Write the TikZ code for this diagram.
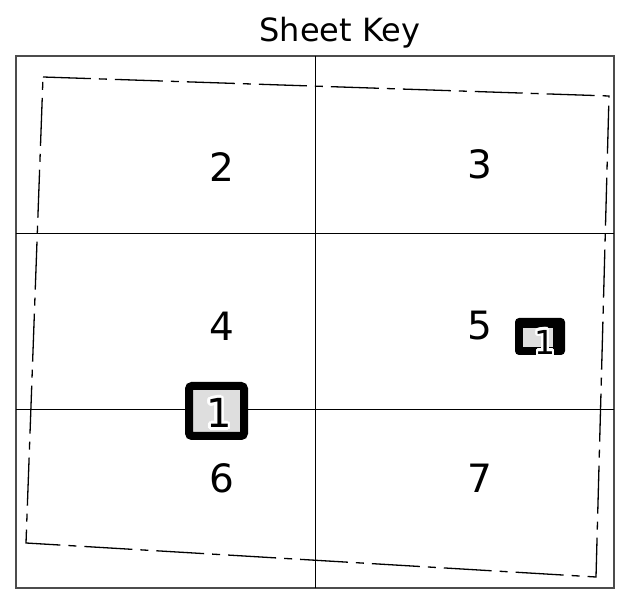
\documentclass[tikz,border=0pt]{standalone}
\usepackage{fontspec}
\setmainfont{DejaVu Sans}

\tikzset{
  sheetnum/.style={font=\fontsize{39}{40}\selectfont},
  boundary/.style={line width=1.3pt, dash pattern=on 48pt off 8pt on 8pt off 8pt},
  bigmark/.style={draw=black, line width=8pt, fill=black!13, rounded corners=3pt,
    minimum width=55pt, minimum height=50pt, inner sep=0pt},
  smallmark/.style={fill=black, rounded corners=4pt,
    minimum width=50pt, minimum height=37pt, inner sep=0pt},
  marknum/.style={font=\fontsize{#1}{#1}\selectfont, inner sep=0pt}
}

\begin{document}
\begin{tikzpicture}[x=1pt,y=-1pt]
\useasboundingbox (0,0) rectangle (624,601);

\node[font=\fontsize{32}{34}\selectfont] (title) at (340,33) {Sheet Key};

% frame and sheet grid
\draw[black!70, line width=1.5pt] (16,56) rectangle (614,588);
\draw[line width=1pt] (315,56)--(315,588);
\draw[line width=1pt] (16,234)--(614,234);
\draw[line width=1pt] (16,410)--(614,410);

% survey boundary
\draw[boundary] (43,77)--(609,96)--(596,577)--(26,543)--cycle;

\node[sheetnum] (s2) at (222,167) {2};
\node[sheetnum] (s3) at (480,164) {3};
\node[sheetnum] (s4) at (222,326) {4};
\node[sheetnum] (s5) at (480,326) {5};
\node[sheetnum] (s6) at (222,478) {6};
\node[sheetnum] (s7) at (480,478) {7};

% location markers
\node[bigmark] (m1) at (216.5,411) {};
\foreach \a in {0,15,...,345}
  \node[marknum=40, text=white] at ([shift={(\a:2.6)}] 219,413) {1};
\node[marknum=40] (m1num) at (219,413) {1};

\node[smallmark] (m2) at (540,336.5) {};
\fill[black!13] (523,328) rectangle (553,347);
\foreach \a in {0,15,...,345}
  \node[marknum=33, text=white] at ([shift={(\a:2.4)}] 545,342) {1};
\node[marknum=33] (m2num) at (545,342) {1};
\end{tikzpicture}
\end{document}
